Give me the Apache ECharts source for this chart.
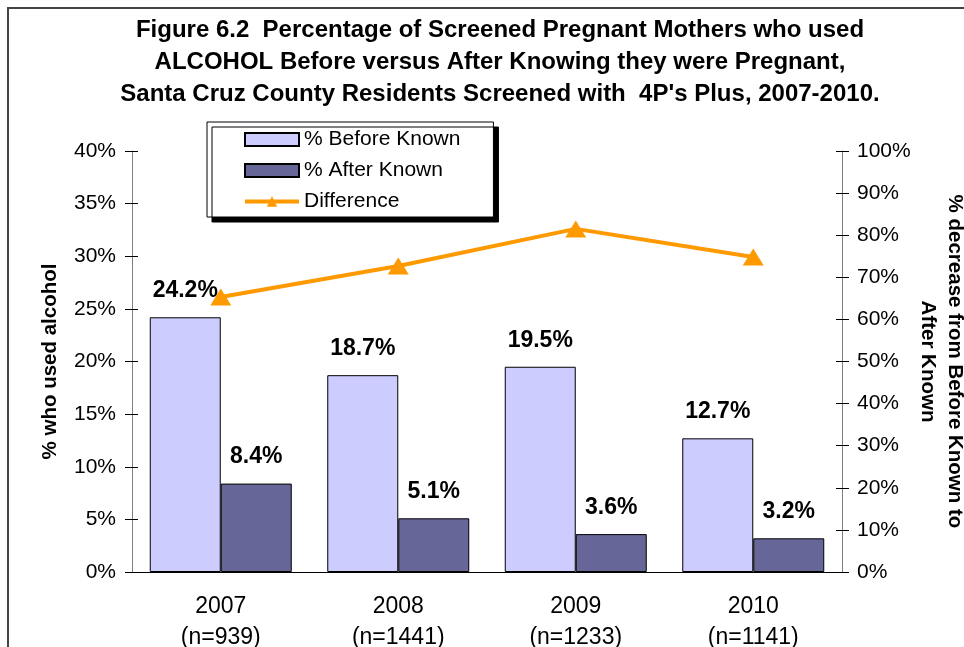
<!DOCTYPE html>
<html>
<head>
<meta charset="utf-8">
<script src="https://cdn.jsdelivr.net/npm/echarts@6/dist/echarts.min.js"></script>
<style>
  html, body { margin: 0; padding: 0; background: #fff; }
  #main { width: 964px; height: 647px; }
</style>
</head>
<body>
<div id="main"></div>
<script>
// ---- data
var years = ["2007\n(n=939)", "2008\n(n=1441)", "2009\n(n=1233)", "2010\n(n=1141)"];
var beforeKnown = [24.2, 18.7, 19.5, 12.7];   // % before known
var afterKnown = [8.4, 5.1, 3.6, 3.2];        // % after known
var difference = [65.3, 72.7, 81.5, 74.8];    // % decrease (right axis)

var font = "Liberation Sans, Arial, sans-serif";

var chart = echarts.init(document.getElementById("main"));

// extra axis only to draw the inner half of the crossing ticks
function tickOnlyAxis(pos, max, interval) {
    return {
        type: "value",
        position: pos,
        min: 0, max: max, interval: interval,
        axisLine: { show: false },
        axisTick: { show: true, inside: true, length: 6, lineStyle: { color: "#000" } },
        axisLabel: { show: false },
        splitLine: { show: false }
    };
}

var option = {
    backgroundColor: "#fff",
    animation: false,
    title: {
        text: "Figure 6.2  Percentage of Screened Pregnant Mothers who used\nALCOHOL Before versus After Knowing they were Pregnant,\nSanta Cruz County Residents Screened with  4P's Plus, 2007-2010.",
        left: 495,
        top: 9,
        textAlign: "center",
        textStyle: {
            fontFamily: font,
            fontSize: 24,
            fontWeight: "bold",
            color: "#000",
            lineHeight: 32
        }
    },
    graphic: [{
        type: "rect",
        shape: { x: 8, y: 8, width: 1000, height: 700 },
        style: { fill: "none", stroke: "#444", lineWidth: 2 },
        silent: true,
        z: -1
    }],
    legend: {
        orient: "vertical",
        left: 207,
        top: 122,
        padding: [7, 33, 5, 36],
        itemGap: 10,
        itemWidth: 54,
        itemHeight: 13,
        backgroundColor: "#fff",
        borderColor: "#000",
        borderWidth: 1,
        shadowColor: "#000",
        shadowBlur: 0,
        shadowOffsetX: 5,
        shadowOffsetY: 5,
        textStyle: { fontFamily: font, fontSize: 21, color: "#000", lineHeight: 21 },
        data: [
            { name: "% Before Known", icon: "rect" },
            { name: "% After Known", icon: "rect" },
            { name: "Difference", lineStyle: { width: 4, color: "#FF9900" } }
        ]
    },
    grid: { left: 132, right: 122, top: 151, bottom: 75, outerBoundsMode: "none" },
    xAxis: {
        type: "category",
        data: years,
        axisLine: { lineStyle: { color: "#000", width: 1 } },
        axisTick: { length: 9, lineStyle: { color: "#000" } },
        axisLabel: {
            fontFamily: font, fontSize: 23, color: "#000",
            lineHeight: 31, margin: 19
        }
    },
    yAxis: [{
        type: "value",
        min: 0, max: 40, interval: 5,
        name: "% who used alcohol",
        nameLocation: "middle",
        nameGap: 71,
        nameMoveOverlap: false,
        nameRotate: 90,
        nameTextStyle: { fontFamily: font, fontSize: 20.5, fontWeight: "bold", color: "#000" },
        axisLine: { show: true, lineStyle: { color: "#808080" } },
        axisTick: { show: true, length: 7, lineStyle: { color: "#000" } },
        splitLine: { show: false },
        axisLabel: {
            fontFamily: font, fontSize: 21, color: "#000", margin: 16,
            formatter: "{value}%"
        }
    }, {
        type: "value",
        min: 0, max: 100, interval: 10,
        position: "right",
        name: "% decrease from Before Known to\nAfter Known",
        nameLocation: "middle",
        nameGap: 72,
        nameMoveOverlap: false,
        nameRotate: -90,
        nameTextStyle: { fontFamily: font, fontSize: 20.5, fontWeight: "bold", color: "#000", lineHeight: 27 },
        axisLine: { show: true, lineStyle: { color: "#808080" } },
        axisTick: { show: true, length: 7, lineStyle: { color: "#000" } },
        splitLine: { show: false },
        axisLabel: {
            fontFamily: font, fontSize: 21, color: "#000", margin: 15,
            formatter: "{value}%"
        }
    },
    tickOnlyAxis("left", 40, 5),
    tickOnlyAxis("right", 100, 10)],
    series: [{
        name: "% Before Known",
        type: "bar",
        data: beforeKnown,
        barGap: "0%",
        barCategoryGap: "20%",
        itemStyle: { color: "#CCCCFF", borderColor: "#000", borderWidth: 1 },
        label: {
            show: true, position: "top", distance: 15,
            fontFamily: font, fontSize: 23, fontWeight: "bold", color: "#000",
            formatter: "{c}%"
        }
    }, {
        name: "% After Known",
        type: "bar",
        data: afterKnown,
        itemStyle: { color: "#666699", borderColor: "#000", borderWidth: 1 },
        label: {
            show: true, position: "top", distance: 15,
            fontFamily: font, fontSize: 23, fontWeight: "bold", color: "#000",
            formatter: "{c}%"
        }
    }, {
        name: "Difference",
        type: "line",
        yAxisIndex: 1,
        data: difference,
        symbol: "triangle",
        symbolSize: [21, 17],
        lineStyle: { color: "#FF9900", width: 4 },
        itemStyle: { color: "#FF9900" },
        z: 5
    }]
};

chart.setOption(option);
</script>
</body>
</html>
